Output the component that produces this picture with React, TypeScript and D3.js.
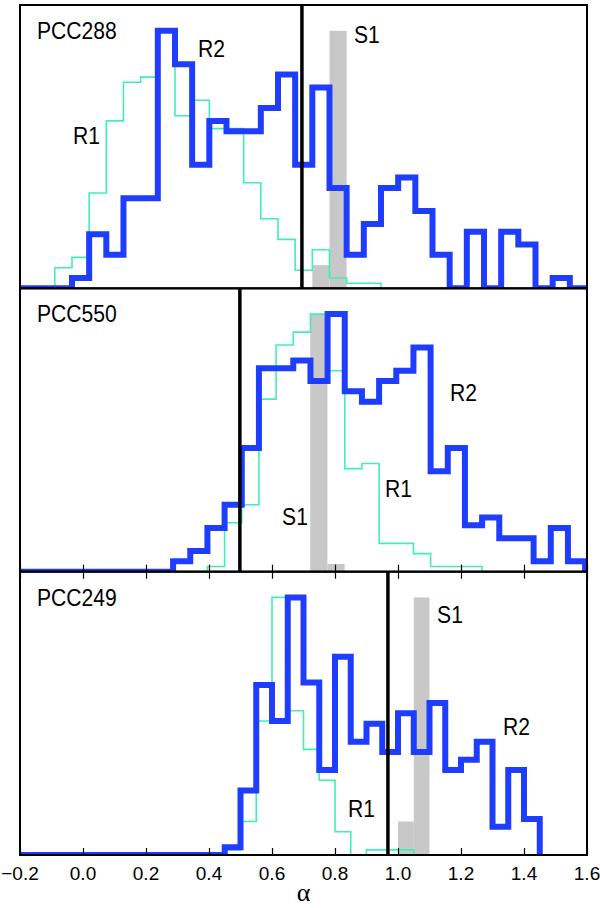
import React, { useEffect, useRef } from 'react';
import * as d3 from 'd3';

// x axis
const xDomain = [-0.2, 1.6];
const xTicks = [-0.2, 0.0, 0.2, 0.4, 0.6, 0.8, 1.0, 1.2, 1.4, 1.6];
const xTickLabels = ['\u22120.2', '0.0', '0.2', '0.4', '0.6', '0.8', '1.0', '1.2', '1.4', '1.6'];

// one entry per panel, top to bottom
const panelNames = ['PCC288', 'PCC550', 'PCC249'];
const binWidths = [0.0545, 0.0545, 0.05];
const alphaLines = [0.695, 0.498, 0.968];

// R2 (thick blue), normalized histograms
const r2Start = [-0.035, 0.286, 0.45];
const r2Counts = [
  [0.04, 0.21, 0.13, 0.35, 0.35, 1.0, 0.87, 0.48, 0.65, 0.61, 0.61, 0.70, 0.83, 0.48, 0.78,
    0.39, 0.13, 0.25, 0.39, 0.43, 0.30, 0.13, 0, 0.22, 0, 0.22, 0.17, 0, 0.04, 0],
  [0.04, 0.08, 0.17, 0.26, 0.48, 0.79, 0.79, 0.82, 0.74, 1.0, 0.70, 0.66, 0.74, 0.78, 0.87,
    0.39, 0.48, 0.18, 0.21, 0.13, 0.13, 0.04, 0.17, 0.04],
  [0.03, 0.25, 0.66, 0.52, 1.0, 0.67, 0.33, 0.77, 0.44, 0.51, 0.40, 0.55, 0.40, 0.59, 0.33,
    0.37, 0.44, 0.11, 0.33, 0.14],
];
const r2ToRightEdge = [true, true, false];

// R1 (thin green)
const r1Start = [-0.0895, 0.395, 0.45];
const r1Counts = [
  [0.08, 0.12, 0.37, 0.65, 0.80, 0.82, 1.0, 0.67, 0.73, 0.62, 0.62, 0.41, 0.27, 0.19, 0.07,
    0.15, 0.04, 0.02, 0.02],
  [0.02, 0.19, 0.26, 0.67, 0.88, 0.93, 1.0, 0.78, 0.40, 0.42, 0.11, 0.11, 0.07, 0.02, 0.02, 0.02],
  [0.02, 0.13, 0.52, 1.0, 0.56, 0.41, 0.29, 0.09, 0, 0.02, 0.02, 0.02],
];

// S1 (grey bars)
const s1Start = [0.728, 0.7215, 1.0];
const s1Counts = [
  [0.09, 1.0],
  [1.0, 0.03],
  [0.13, 1.0],
];

// annotations, in data units (alpha, normalized height)
const labelText = [
  ['R2', 'R1', 'S1'],
  ['R2', 'R1', 'S1'],
  ['R2', 'R1', 'S1'],
];
const labelAlpha = [
  [0.365, -0.032, 0.86],
  [1.165, 0.959, 0.632],
  [1.333, 0.841, 1.124],
];
const labelHeight = [
  [0.898, 0.56, 0.952],
  [0.661, 0.288, 0.183],
  [0.466, 0.148, 0.902],
];

const BLUE = '#1f3dff';
const GREEN = '#3ff0b4';
const GREY = '#c8c8c8';

const App = () => {
  const svgRef = useRef<SVGSVGElement>(null);

  useEffect(() => {
    const width = 600;
    const height = 908;
    const left = 20;
    const right = 587;
    const top = 5;
    const panelH = (855 - top) / 3;

    const svg = d3.select(svgRef.current);
    svg.selectAll('*').remove();
    svg.attr('width', width).attr('height', height);

    const x = d3.scaleLinear().domain(xDomain).range([left, right]);

    const font = 'Liberation Sans, Arial, Helvetica, sans-serif';

    panelNames.forEach((name, p) => {
      const y0 = top + p * panelH;
      const y1 = y0 + panelH;
      const y = d3.scaleLinear().domain([0, 1.1]).range([y1, y0]);
      const w = binWidths[p];

      const clipId = `clip${p}`;
      svg.append('clipPath').attr('id', clipId)
        .append('rect')
        .attr('x', left).attr('y', y0)
        .attr('width', right - left).attr('height', panelH);

      const g = svg.append('g').attr('clip-path', `url(#${clipId})`);

      // S1 bars
      g.selectAll('rect.s1')
        .data(s1Counts[p])
        .enter().append('rect')
        .attr('x', (d, i) => x(s1Start[p] + i * w))
        .attr('width', (d, i) => x(s1Start[p] + (i + 1) * w) - x(s1Start[p] + i * w))
        .attr('y', d => y(d))
        .attr('height', d => y(0) - y(d))
        .attr('fill', GREY);

      const step = d3.line<[number, number]>()
        .x(d => x(d[0]))
        .y(d => y(d[1]))
        .curve(d3.curveStepAfter);

      const stepPoints = (start: number, counts: number[], toRight: boolean) => {
        const pts: [number, number][] = [[xDomain[0], 0]];
        counts.forEach((c, i) => pts.push([start + i * w, c]));
        pts.push([start + counts.length * w, 0]);
        if (toRight) pts.push([xDomain[1], 0]);
        return pts;
      };

      // R1
      g.append('path')
        .datum(stepPoints(r1Start[p], r1Counts[p], false))
        .attr('fill', 'none')
        .attr('stroke', GREEN)
        .attr('stroke-width', 1.6)
        .attr('d', step);

      // R2
      g.append('path')
        .datum(stepPoints(r2Start[p], r2Counts[p], r2ToRightEdge[p]))
        .attr('fill', 'none')
        .attr('stroke', BLUE)
        .attr('stroke-width', 6)
        .attr('stroke-linejoin', 'miter')
        .attr('d', step);

      // alpha marker
      g.append('line')
        .attr('x1', x(alphaLines[p])).attr('x2', x(alphaLines[p]))
        .attr('y1', y0).attr('y2', y1)
        .attr('stroke', '#000')
        .attr('stroke-width', 3.5);

      // frame
      svg.append('rect')
        .attr('x', left).attr('y', y0)
        .attr('width', right - left).attr('height', panelH)
        .attr('fill', 'none')
        .attr('stroke', '#000')
        .attr('stroke-width', 2);

      // inner ticks
      const tickLen = 7;
      if (p > 0) {
        svg.append('g')
          .attr('transform', `translate(0, ${y1})`)
          .call(d3.axisTop(x).tickValues(xTicks).tickSize(tickLen).tickFormat(() => ''))
          .call(a => a.select('.domain').remove())
          .call(a => a.selectAll('line').attr('stroke', '#000').attr('stroke-width', 1.2));
      }
      if (p === 2) {
        svg.append('g')
          .attr('transform', `translate(0, ${y0})`)
          .call(d3.axisBottom(x).tickValues(xTicks).tickSize(tickLen).tickFormat(() => ''))
          .call(a => a.select('.domain').remove())
          .call(a => a.selectAll('line').attr('stroke', '#000').attr('stroke-width', 1.2));
      }

      // panel name
      svg.append('text')
        .attr('transform', `translate(${x(-0.146)}, ${y(0.968)}) scale(0.88, 1)`)
        .attr('font-family', font)
        .attr('font-size', 24)
        .text(name);

      labelText[p].forEach((t, i) => {
        svg.append('text')
          .attr('transform', `translate(${x(labelAlpha[p][i])}, ${y(labelHeight[p][i])}) scale(0.88, 1)`)
          .attr('font-family', font)
          .attr('font-size', 24)
          .text(t);
      });
    });

    // tick labels
    svg.append('g')
      .selectAll('text')
      .data(xTicks)
      .enter().append('text')
      .attr('x', d => x(d))
      .attr('y', 880)
      .attr('text-anchor', 'middle')
      .attr('font-family', font)
      .attr('font-size', 19)
      .text((d, i) => xTickLabels[i]);

    svg.append('text')
      .attr('x', (left + right) / 2)
      .attr('y', 901)
      .attr('text-anchor', 'middle')
      .attr('font-family', 'Liberation Serif, Times New Roman, serif')
      .attr('font-size', 26)
      .text('\u03b1');
  }, []);

  return (
    <svg ref={svgRef} style={{ position: 'absolute', left: 0, top: 0, background: '#fff' }}></svg>
  );
};

export default App;
